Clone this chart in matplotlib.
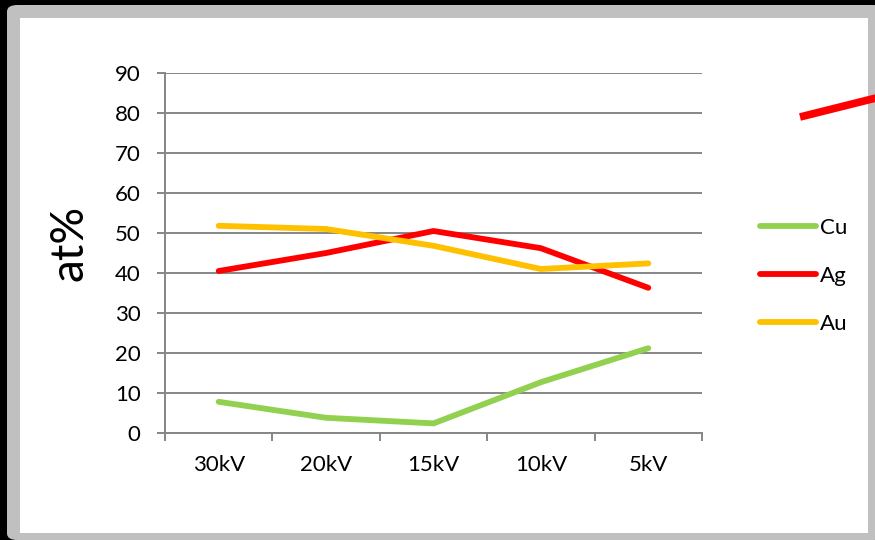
import matplotlib
matplotlib.use('Agg')
import matplotlib.pyplot as plt
from matplotlib.patches import Rectangle, FancyBboxPatch
from matplotlib.lines import Line2D

# data
categories = ['30kV', '20kV', '15kV', '10kV', '5kV']
cu = [7.8, 3.8, 2.4, 12.7, 21.2]
ag = [40.5, 45.0, 50.5, 46.2, 36.3]
au = [51.8, 51.0, 46.8, 41.0, 42.4]
series_names = ['Cu', 'Ag', 'Au']
series_colors = ['#92D050', '#FF0000', '#FFC000']

W, H = 875, 540
plt.rcParams['font.family'] = ['Lato', 'DejaVu Sans']

def px(x, y):
    '''pixel coords (top-left origin) -> figure fraction'''
    return x / W, 1 - y / H

fig = plt.figure(figsize=(W / 100, H / 100), dpi=100, facecolor='black')

# slide frame: gray border and white inner panel
x0, y0 = px(7, 540)
fig.patches.append(FancyBboxPatch((x0, y0), 1 - x0 + 0.01, (540 - 5) / H,
                                  boxstyle='round,pad=0,rounding_size=0.012',
                                  transform=fig.transFigure, facecolor='#C0C0C0',
                                  edgecolor='none', zorder=-2))
x1, y1 = px(20, 533)
fig.patches.append(Rectangle((x1, y1), (868 - 20) / W, (533 - 18) / H,
                             transform=fig.transFigure, facecolor='white',
                             edgecolor='none', zorder=-1))

# stray red stroke at top right
xa, ya = px(800, 117)
xb, yb = px(876, 98)
fig.add_artist(Line2D([xa, xb], [ya, yb], transform=fig.transFigure,
                      color='#FF0000', lw=5.5, solid_capstyle='butt'))

left, bottom = px(165, 433)
ax = fig.add_axes([left, bottom, (702 - 165) / W, (433 - 73) / H])
ax.set_facecolor('none')

xs = [i + 0.5 for i in range(len(categories))]
for vals, name, col in zip([cu, ag, au], series_names, series_colors):
    ax.plot(xs, vals, color=col, lw=4.2, label=name, solid_capstyle='round',
            solid_joinstyle='round')

ax.set_xlim(0, len(categories))
ax.set_ylim(0, 90)
ax.set_yticks(range(0, 91, 10))
ax.set_xticks(range(len(categories) + 1))
ax.set_xticklabels([])
ax.set_xticks(xs, minor=True)
ax.set_xticklabels(categories, minor=True)
ax.tick_params(axis='x', which='minor', length=0, pad=16, labelsize=16)
ax.tick_params(axis='x', which='major', length=5.5, color='#868686', width=1.4)
ax.tick_params(axis='y', length=5.5, color='#868686', width=1.4, pad=12, labelsize=16)
ax.grid(axis='y', color='#868686', lw=1.4)
ax.set_axisbelow(True)
for s in ['top', 'right']:
    ax.spines[s].set_visible(False)
for s in ['left', 'bottom']:
    ax.spines[s].set_color('#868686')
    ax.spines[s].set_linewidth(1.4)

fig.text(*px(70, 243), 'at%', rotation=90, fontsize=33, ha='center', va='center')

lx, ly = px(760, 276)
fig.legend(loc='center left', bbox_to_anchor=(lx, ly), frameon=False,
           fontsize=16, handlelength=2.5, handletextpad=0.2, labelspacing=1.25,
           borderaxespad=0, borderpad=0)

fig.savefig('out.png', dpi=100, facecolor='black')
